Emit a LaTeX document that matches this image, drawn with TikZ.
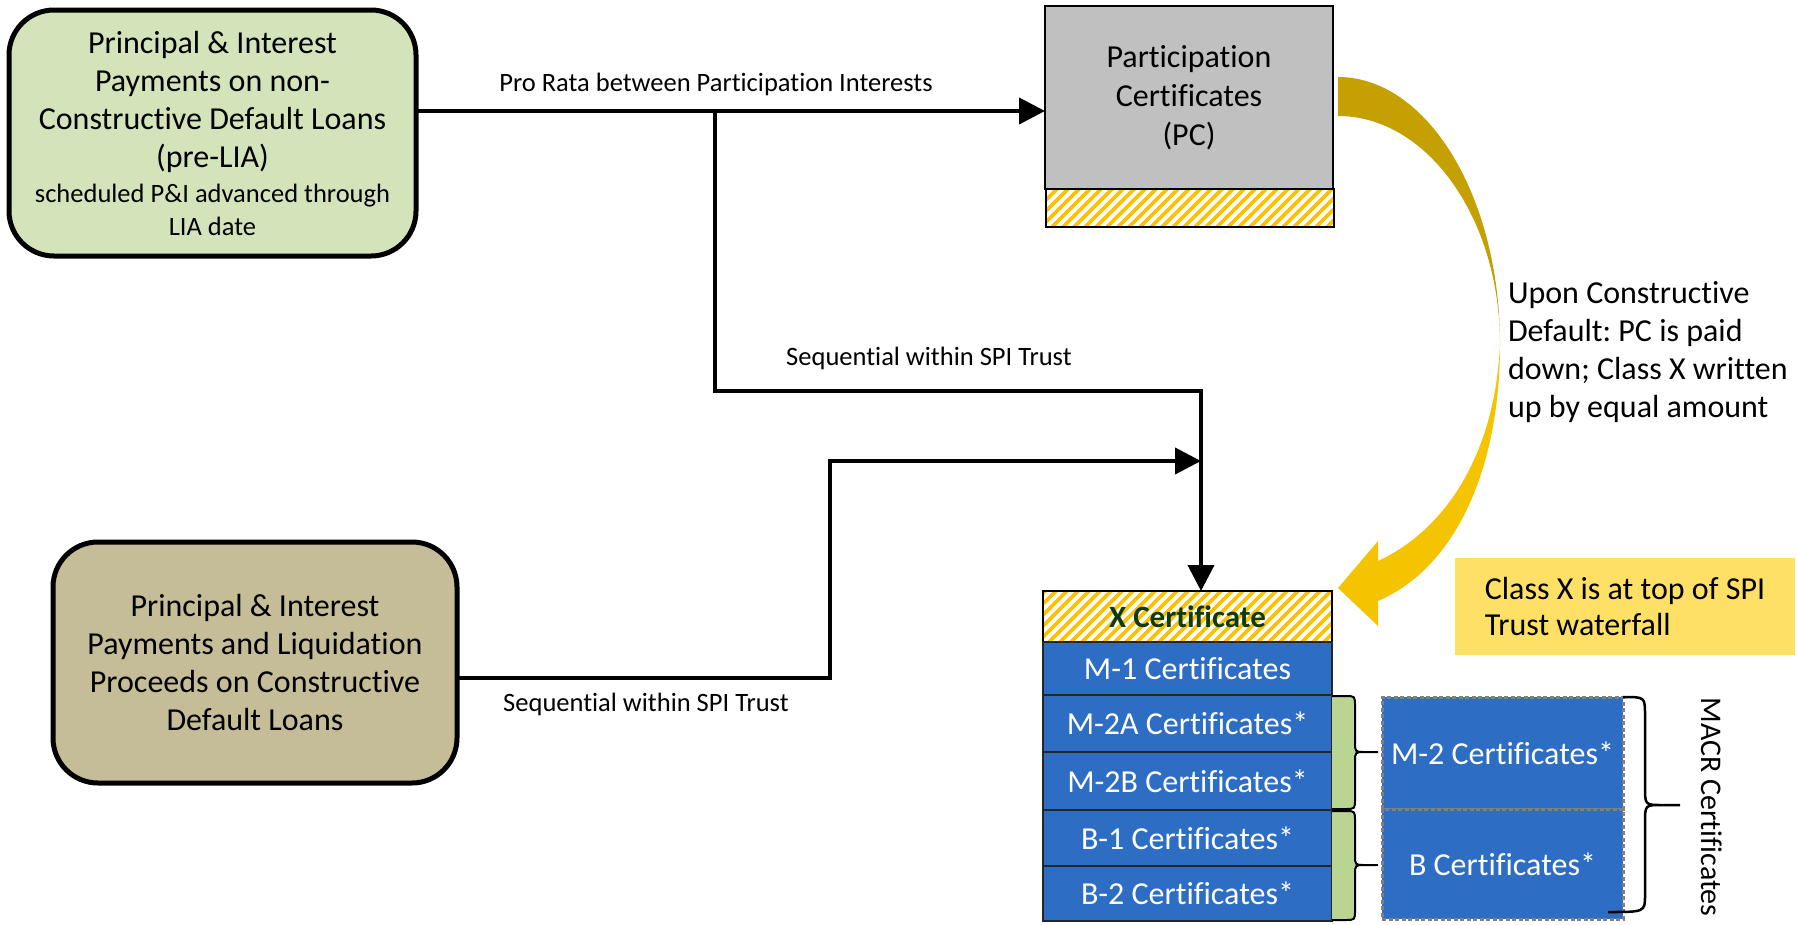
\documentclass[tikz,border=0pt]{standalone}
\usepackage{fontspec}
\setmainfont{Carlito}[Ligatures=NoCommon]
\usetikzlibrary{arrows.meta}
\frenchspacing

\definecolor{boxgreen}{HTML}{D4E4BA}
\definecolor{boxtan}{HTML}{C4BD97}
\definecolor{pcgray}{HTML}{C0C0C0}
\definecolor{certblue}{HTML}{2D6DC3}
\definecolor{hatchgold}{HTML}{FFC000}
\definecolor{bracegreen}{HTML}{BAD591}
\definecolor{notegold}{HTML}{FFE066}
\definecolor{arrowdark}{HTML}{C4A000}
\definecolor{arrowlight}{HTML}{F5C400}
\definecolor{xgreen}{HTML}{0E3A10}

\newcommand\fsz[2]{\fontsize{#1}{#2}\selectfont}

% green curly brace beside the certificate stack: top, tip and bottom heights
\newcommand\certbrace[3]{%
  \fill[bracegreen] (1332,#1) -- (1345,#1) .. controls (1355,#1) .. (1355,#1+10)
    -- (1355,#2-10) .. controls (1355,#2) .. (1365,#2) -- (1378,#2)
    -- (1365,#2) .. controls (1355,#2) .. (1355,#2+10)
    -- (1355,#3-10) .. controls (1355,#3) .. (1345,#3) -- (1332,#3) -- cycle;
  \draw[line width=2pt] (1332,#1) -- (1345,#1) .. controls (1355,#1) .. (1355,#1+10)
    -- (1355,#2-10) .. controls (1355,#2) .. (1365,#2) -- (1378,#2)
    -- (1365,#2) .. controls (1355,#2) .. (1355,#2+10)
    -- (1355,#3-10) .. controls (1355,#3) .. (1345,#3) -- (1332,#3);}

\begin{document}
\begin{tikzpicture}[x=1pt,y=-1pt,
  every node/.style={inner sep=0pt, outer sep=0pt},
  srcbox/.style={draw=black, line width=5pt, rounded corners=45pt, align=center,
    anchor=north west, font=\fsz{32}{38}},
  pcbox/.style={draw=black, line width=2pt, fill=pcgray, align=center,
    anchor=north west, font=\fsz{32}{39}},
  hatched/.style={fill=white, path picture={
      \foreach \i in {0,...,34}
        \draw[hatchgold, line width=3.6pt]
          ([xshift=\i*11pt-60pt]path picture bounding box.south west) -- ++(70pt,70pt);}},
  cert/.style={draw=black!85, line width=2pt, fill=certblue, text=white,
    font=\fsz{32}{38}, minimum width=289pt, anchor=north west},
  dashbox/.style={fill=certblue, draw=gray, line width=3pt, dash pattern=on 4pt off 2.5pt,
    text=white, font=\fsz{32}{38}, minimum width=241pt, anchor=north west},
  conn/.style={line width=4pt},
  arrowed/.style={-{Triangle[length=26pt,width=26pt]}},
  flowlabel/.style={font=\fsz{26.5}{32}},
  plain/.style={font=\fsz{32}{38}, align=left}
]
\path[use as bounding box, fill=white] (0,0) rectangle (1797,924);

% source boxes
\node[srcbox, fill=boxgreen, minimum width=407pt, minimum height=246pt] (pi) at (9,10)
  {Principal \& Interest\\Payments on non-\\Constructive Default Loans\\(pre-LIA)\\[-3pt]
   \fsz{26.5}{33}scheduled P\&I advanced through\\[-5pt]\fsz{26.5}{33}LIA date};
\node[srcbox, fill=boxtan, minimum width=404pt, minimum height=241pt] (tan) at (53,542)
  {Principal \& Interest\\Payments and Liquidation\\Proceeds on Constructive\\Default Loans};

% participation certificates
\node[pcbox, minimum width=288pt, minimum height=183pt] (pc) at (1045,6)
  {Participation\\Certificates\\(PC)};
\node[draw=black, line width=2pt, hatched, anchor=north west,
  minimum width=288pt, minimum height=38pt] (pcbar) at (1046,189) {};

% certificate stack
\node[cert, hatched, draw=black, text=xgreen, font=\bfseries\fsz{31}{36},
  minimum height=51pt] (xc) at (1043,591) {X Certificate};
\node[cert, minimum height=53pt] (m1) at (1043,642) {M-1 Certificates};
\node[cert, minimum height=57pt] (m2a) at (1043,695) {M-2A Certificates*};
\node[cert, minimum height=58pt] (m2b) at (1043,752) {M-2B Certificates*};
\node[cert, minimum height=56pt] (b1) at (1043,810) {B-1 Certificates*};
\node[cert, minimum height=55pt] (b2) at (1043,866) {B-2 Certificates*};

\certbrace{696}{752}{809}
\certbrace{811}{865}{920}

% exchangeable classes
\node[dashbox, minimum height=112pt] (m2) at (1382,697) {M-2 Certificates*};
\node[dashbox, minimum height=110pt] (bc) at (1382,809) {B Certificates*};

\draw[line width=2.5pt] (1623,697) .. controls (1645,697) .. (1645,715) -- (1645,787)
  .. controls (1645,805) .. (1662,805) -- (1680,805) -- (1662,805)
  .. controls (1645,805) .. (1645,823) -- (1645,895) .. controls (1645,912) .. (1608,912);
\node[font=\fsz{30}{36}, rotate=-90] (macr) at (1712,807) {MACR Certificates};

% flows
\coordinate (j1) at (715,111);
\coordinate (j2) at (1201,391);
\coordinate (j3) at (1201,461);
\coordinate (k1) at (830,678);
\draw[conn, arrowed] (pi.east |- j1) -- (pc.west |- j1);
\draw[conn, arrowed] (j1) |- (j2) -- (j2 |- xc.north);
\draw[conn, arrowed] (tan.east |- k1) -- (k1) |- (j3);

\node[flowlabel] (lbl1) at (716,84) {Pro Rata between Participation Interests};
\node[flowlabel] (lbl2) at (929,358) {Sequential within SPI Trust};
\node[flowlabel] (lbl3) at (646,704) {Sequential within SPI Trust};

% write-up arrow from the PC to class X
\fill[arrowdark] (1338,77) .. controls (1427,77) and (1500,196) .. (1500,344)
  .. controls (1500,218) and (1427,116) .. (1338,116) -- cycle;
\fill[arrowlight] (1500,344) .. controls (1500,470) and (1455,568) .. (1378,601)
  -- (1378,626) -- (1338,588) -- (1378,541) -- (1378,561)
  .. controls (1445,530) and (1495,455) .. (1500,344) -- cycle;

\node[plain, anchor=west] (upon) at (1508,352)
  {Upon Constructive\\Default: PC is paid\\down; Class X written\\up by equal amount};

\node[fill=notegold, anchor=north west, minimum width=340pt, minimum height=97pt,
  align=left, font=\fsz{32}{36}] (note) at (1455,558)
  {Class X is at top of SPI\\Trust waterfall};
\end{tikzpicture}
\end{document}
